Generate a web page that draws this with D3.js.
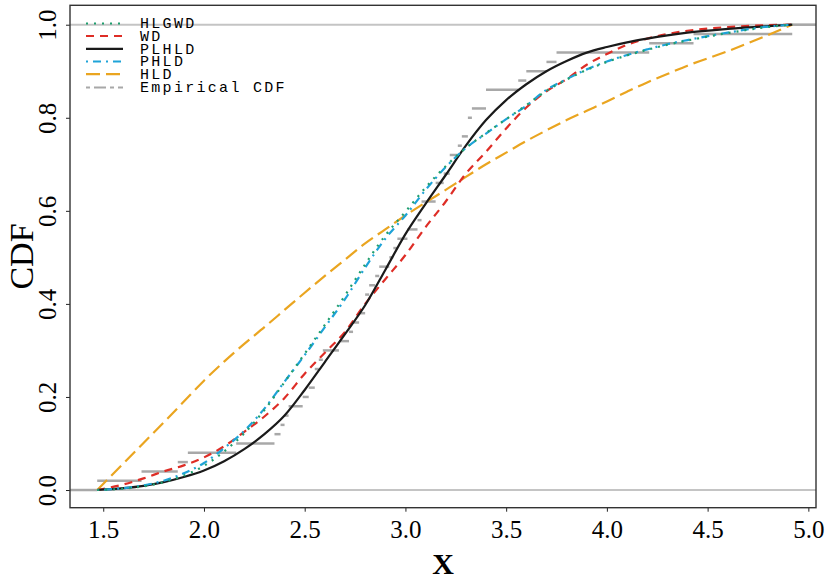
<!DOCTYPE html>
<html><head><meta charset="utf-8">
<script src="https://cdn.jsdelivr.net/npm/d3@7"></script>
<style>body{margin:0;background:#fff}</style>
</head><body>
<svg id="chart" width="832" height="580"></svg>
<script>
// ---- data ----
const xGrid = [1.47,1.6,1.7,1.8,1.9,2.0,2.1,2.2,2.3,2.4,2.5,2.6,2.7,2.8,2.9,3.0,3.1,3.2,3.3,3.4,3.5,3.6,3.7,3.8,3.9,4.0,4.1,4.2,4.3,4.4,4.6,4.8,4.92];
const hlgwd = [0,0.003,0.008,0.017,0.031,0.052,0.083,0.122,0.172,0.232,0.293,0.355,0.418,0.485,0.547,0.598,0.650,0.696,0.735,0.767,0.797,0.827,0.858,0.882,0.903,0.920,0.934,0.946,0.957,0.966,0.982,0.995,1.0];
const wd    = [0,0.012,0.025,0.040,0.053,0.070,0.094,0.125,0.158,0.198,0.250,0.295,0.340,0.400,0.453,0.505,0.565,0.620,0.680,0.727,0.777,0.822,0.857,0.883,0.914,0.937,0.957,0.970,0.980,0.987,0.995,0.999,1.0];
const plhld = [0,0.004,0.009,0.017,0.028,0.042,0.062,0.088,0.120,0.160,0.215,0.275,0.335,0.397,0.473,0.550,0.615,0.677,0.740,0.795,0.838,0.872,0.900,0.922,0.940,0.952,0.962,0.970,0.977,0.983,0.991,0.997,1.0];
const phld  = [0,0.004,0.010,0.020,0.036,0.058,0.090,0.127,0.175,0.233,0.290,0.350,0.410,0.478,0.540,0.590,0.645,0.694,0.735,0.766,0.797,0.826,0.860,0.883,0.904,0.921,0.935,0.947,0.958,0.967,0.983,0.996,1.0];
const hld   = [0,0.057,0.101,0.145,0.190,0.235,0.276,0.314,0.350,0.387,0.424,0.460,0.495,0.530,0.560,0.590,0.618,0.645,0.673,0.700,0.725,0.750,0.773,0.795,0.815,0.835,0.856,0.876,0.894,0.912,0.943,0.978,1.0];
const sample = [1.47,1.69,1.87,1.92,2.16,2.35,2.38,2.40,2.42,2.49,2.52,2.55,2.55,2.57,2.59,2.67,2.72,2.74,2.77,2.80,2.80,2.82,2.85,2.87,2.92,2.94,2.96,3.01,3.06,3.08,3.08,3.15,3.15,3.19,3.22,3.22,3.26,3.28,3.31,3.31,3.33,3.40,3.40,3.56,3.60,3.70,3.75,4.21,4.43,4.92];
const xTicks = [1.5,2.0,2.5,3.0,3.5,4.0,4.5,5.0];
const yTicks = [0,0.2,0.4,0.6,0.8,1.0];
const seriesNames = ["HLGWD","WD","PLHLD","PHLD","HLD","Empirical CDF"];
const seriesColors = ["#1f9e6e","#de2d26","#1a1a1a","#1ea3d8","#eaa520","#a8a8a8"];
const seriesDash = ["2,6","8,6",null,"2,5,8,5","14,6","4,4,12,4"];

// ---- drawing ----
const svg = d3.select("#chart");
const L = 70, R = 816, T = 5.3, B = 507.7;
const x = d3.scaleLinear().domain([1.335, 5.038]).range([L, R]);
const y = d3.scaleLinear().domain([-0.038, 1.0417]).range([B, T]);
const serif = "'Liberation Serif', 'Times New Roman', serif";
const mono = "'Liberation Mono', 'Courier New', monospace";

// reference lines at 0 and 1
svg.selectAll("line.ref").data([0,1]).enter().append("line")
  .attr("x1", L).attr("x2", R).attr("y1", d => y(d)).attr("y2", d => y(d))
  .attr("stroke", "#c4c4c4").attr("stroke-width", 2);

// empirical CDF steps
const n = sample.length;
const uniq = Array.from(new Set(sample)).sort((a,b)=>a-b);
const steps = uniq.map((v,i) => ({x0: v, x1: i < uniq.length-1 ? uniq[i+1] : x.domain()[1],
  level: sample.filter(s => s <= v).length / n}));
steps.unshift({x0: x.domain()[0], x1: uniq[0], level: 0});
svg.append("g").selectAll("line").data(steps).enter().append("line")
  .attr("x1", d => x(d.x0)).attr("x2", d => x(d.x1))
  .attr("y1", d => y(d.level)).attr("y2", d => y(d.level))
  .attr("stroke", seriesColors[5]).attr("stroke-width", 2.5);

// model curves
const curves = [hlgwd, wd, plhld, phld, hld];
const line = d3.line().x((d,i) => x(xGrid[i])).y(d => y(d)).curve(d3.curveMonotoneX);
[4,1,2,3,0].forEach(k => {
  svg.append("path").datum(curves[k]).attr("d", line)
    .attr("fill", "none").attr("stroke", seriesColors[k])
    .attr("stroke-width", 2.2)
    .attr("stroke-dasharray", seriesDash[k]);
});

// axes
const xAxis = svg.append("g").attr("transform", `translate(0,${B})`)
  .call(d3.axisBottom(x).tickValues(xTicks).tickFormat(d3.format(".1f")).tickSize(4).tickPadding(9));
xAxis.attr("font-family", null).attr("font-size", null);
xAxis.select(".domain").remove();
xAxis.selectAll("line").attr("stroke", "#222");
xAxis.selectAll("text").style("font-family", serif).style("font-size", "25px").attr("fill", "#000");

const yAxis = svg.append("g").attr("transform", `translate(${L},0)`)
  .call(d3.axisLeft(y).tickValues(yTicks).tickFormat(d3.format(".1f")).tickSize(4));
yAxis.attr("font-family", null).attr("font-size", null);
yAxis.select(".domain").remove();
yAxis.selectAll("line").attr("stroke", "#222");
yAxis.selectAll("text").style("font-family", serif).style("font-size", "25px").attr("fill", "#000")
  .attr("x", null).attr("dy", null)
  .attr("text-anchor", "middle")
  .attr("transform", "translate(-14,0) rotate(-90)");

// box
svg.append("rect").attr("x", L).attr("y", T).attr("width", R-L).attr("height", B-T)
  .attr("fill", "none").attr("stroke", "#333").attr("stroke-width", 1.4);

// titles
svg.append("text").attr("x", (L+R)/2).attr("y", 574).attr("text-anchor", "middle")
  .style("font-family", serif).style("font-weight", "bold").style("font-size", "30px").text("X");
svg.append("text").attr("transform", `translate(33,${(T+B)/2}) rotate(-90)`).attr("text-anchor", "middle")
  .style("font-family", serif).style("font-size", "34px").text("CDF");

// legend
const lg = svg.append("g");
const rowY = [23.5, 36, 48.8, 61.5, 74.2, 87.5];
seriesNames.forEach((nm, i) => {
  lg.append("line").attr("x1", 86).attr("x2", 123).attr("y1", rowY[i]).attr("y2", rowY[i])
    .attr("stroke", seriesColors[i]).attr("stroke-width", 2.2)
    .attr("stroke-dasharray", seriesDash[i]);
  lg.append("text").attr("x", 140).attr("y", rowY[i]).attr("dy", "0.33em")
    .style("font-family", mono).style("font-size", "15px")
    .attr("letter-spacing", 2.3).text(nm);
});
</script>
</body></html>
